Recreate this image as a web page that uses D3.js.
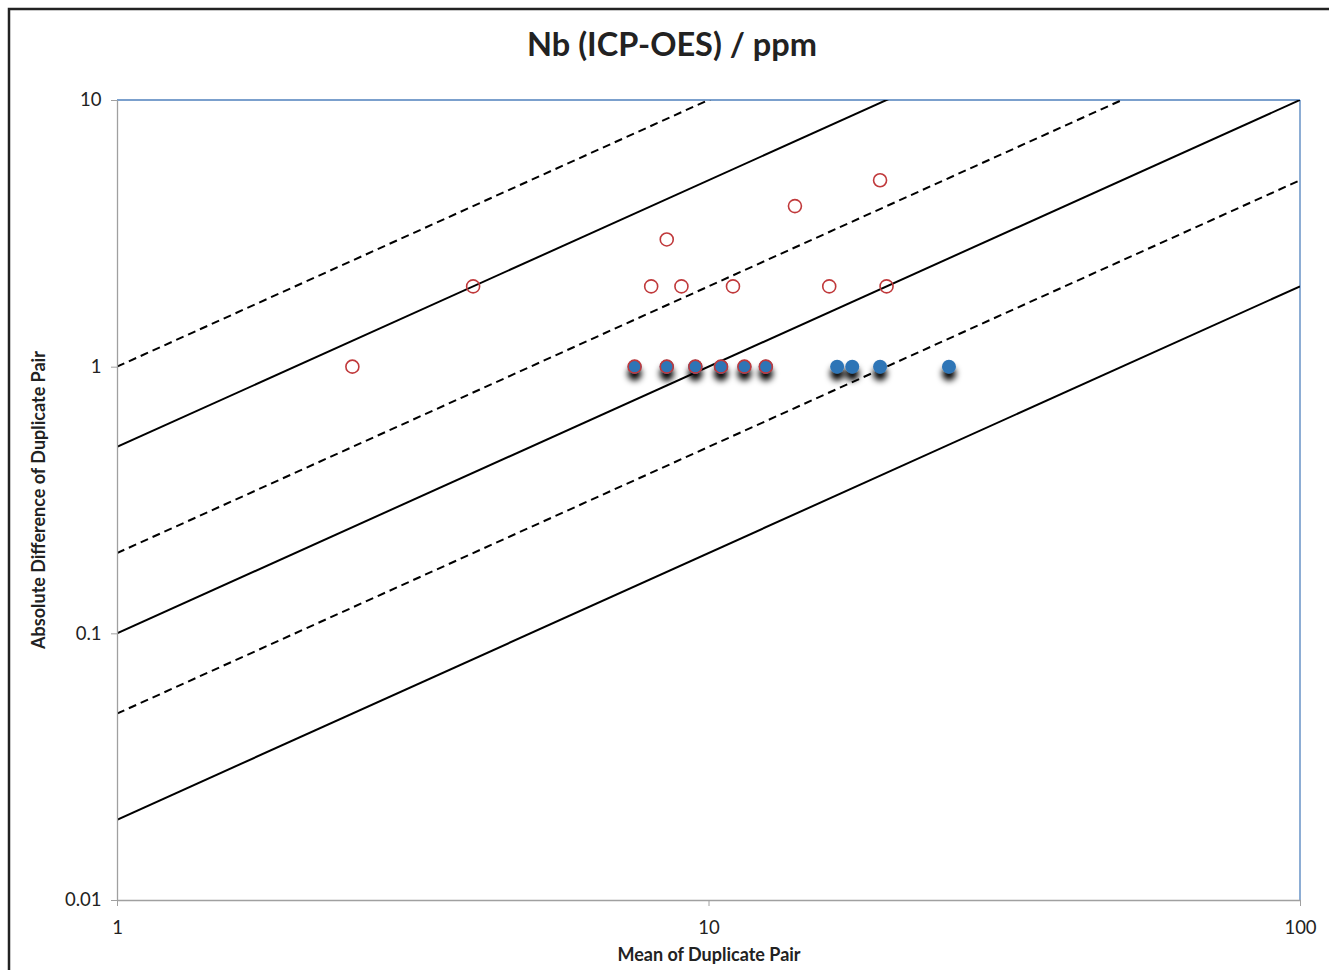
<!DOCTYPE html>
<html><head><meta charset="utf-8">
<script src="https://cdn.jsdelivr.net/npm/d3@7"></script>
<style>body{margin:0;background:#fff}svg{display:block}text{font-family:Lato,"Open Sans",sans-serif;fill:#222}</style>
</head><body>
<script>
const title = "Nb (ICP-OES) / ppm";
const xLabel = "Mean of Duplicate Pair";
const yLabel = "Absolute Difference of Duplicate Pair";
const xTicks = [1, 10, 100];
const yTicks = [0.01, 0.1, 1, 10];
// reference lines y = k * x
const solidK = [0.5, 0.1, 0.02];
const dashedK = [1, 0.2, 0.05];
// open red series
const redX = [2.5, 4, 8.5, 8, 9, 11, 14, 16, 19.5, 20, 7.5, 8.5, 9.5, 10.5, 11.5, 12.5];
const redY = [1, 2, 3, 2, 2, 2, 4, 2, 5, 2, 1, 1, 1, 1, 1, 1];
// filled blue series
const blueX = [7.5, 8.5, 8.5, 9.5, 9.5, 9.5, 10.5, 10.5, 10.5, 11.5, 12.5, 12.5, 16.5, 17.5, 19.5, 25.5];
const blueY = [1, 1, 1, 1, 1, 1, 1, 1, 1, 1, 1, 1, 1, 1, 1, 1];

const W = 1329, H = 970;
const svg = d3.select("body").append("svg").attr("width", W).attr("height", H);
const defs = svg.append("defs");
const f = defs.append("filter").attr("id","sh").attr("x","-100%").attr("y","-100%").attr("width","300%").attr("height","300%");
f.append("feGaussianBlur").attr("in","SourceAlpha").attr("stdDeviation",3.4).attr("result","b");
f.append("feOffset").attr("in","b").attr("dx",0).attr("dy",7).attr("result","o");
f.append("feComponentTransfer").attr("in","o").attr("result","o2").append("feFuncA").attr("type","linear").attr("slope",1);
const m = f.append("feMerge"); m.append("feMergeNode").attr("in","o2"); m.append("feMergeNode").attr("in","SourceGraphic");

svg.append("rect").attr("x",9).attr("y",9).attr("width",W).attr("height",H).attr("fill","none").attr("stroke","#222").attr("stroke-width",2.5);

const L = 117, R = 1300, T = 100, B = 900;
const x = d3.scaleLog().domain([1,100]).range([L,R]);
const y = d3.scaleLog().domain([0.01,10]).range([B,T]);

defs.append("clipPath").attr("id","c").append("rect").attr("x",L).attr("y",T).attr("width",R-L).attr("height",B-T);

svg.append("line").attr("x1",L).attr("x2",R).attr("y1",T).attr("y2",T).attr("stroke","#4f81bd").attr("stroke-width",1.3);
svg.append("line").attr("x1",R).attr("x2",R).attr("y1",T).attr("y2",B).attr("stroke","#4f81bd").attr("stroke-width",1.3);

const g = svg.append("g").attr("clip-path","url(#c)");
const lineFor = k => [[1, k], [100, k*100]];
const ln = d3.line().x(d=>x(d[0])).y(d=>y(d[1]));
solidK.forEach(k => g.append("path").attr("d", ln(lineFor(k))).attr("stroke","#000").attr("stroke-width",2).attr("fill","none"));
dashedK.forEach(k => g.append("path").attr("d", ln(lineFor(k))).attr("stroke","#000").attr("stroke-width",2).attr("stroke-dasharray","8,5").attr("fill","none"));

const xa = svg.append("g").attr("transform",`translate(0,${B})`).call(d3.axisBottom(x).tickValues(xTicks).tickFormat(d3.format("~g")).tickSize(6).tickSizeOuter(0));
const ya = svg.append("g").attr("transform",`translate(${L},0)`).call(d3.axisLeft(y).tickValues(yTicks).tickFormat(d3.format("~g")).tickSize(6).tickSizeOuter(0));
[xa, ya].forEach(a => { a.attr("font-size",null); a.select(".domain").attr("stroke","#a0a0a0").attr("stroke-width",1.3); a.selectAll(".tick line").attr("stroke","#a0a0a0"); a.selectAll("text").style("font-size","18.5px").attr("fill","#222"); });
xa.selectAll("text").attr("dy","1.35em");
ya.selectAll("text").attr("dx","-0.35em");

svg.append("g").attr("filter","url(#sh)").selectAll("circle").data(blueX).join("circle")
  .attr("cx",(d)=>x(d)).attr("cy",(d,i)=>y(blueY[i])).attr("r",7).attr("fill","#2e75b6");
svg.append("g").selectAll("circle").data(redX).join("circle")
  .attr("cx",d=>x(d)).attr("cy",(d,i)=>y(redY[i])).attr("r",6.5).attr("fill","none").attr("stroke","#c0393b").attr("stroke-width",1.6);

svg.append("text").attr("x",672).attr("y",56).attr("text-anchor","middle").style("font-size","32.5px").style("font-weight","bold").text(title);
svg.append("text").attr("x",709).attr("y",961).attr("text-anchor","middle").style("font-size","18px").style("font-weight","bold").text(xLabel);
svg.append("text").attr("transform","translate(45,500) rotate(-90)").attr("text-anchor","middle").style("font-size","18px").style("font-weight","bold").text(yLabel);
</script>
</body></html>
